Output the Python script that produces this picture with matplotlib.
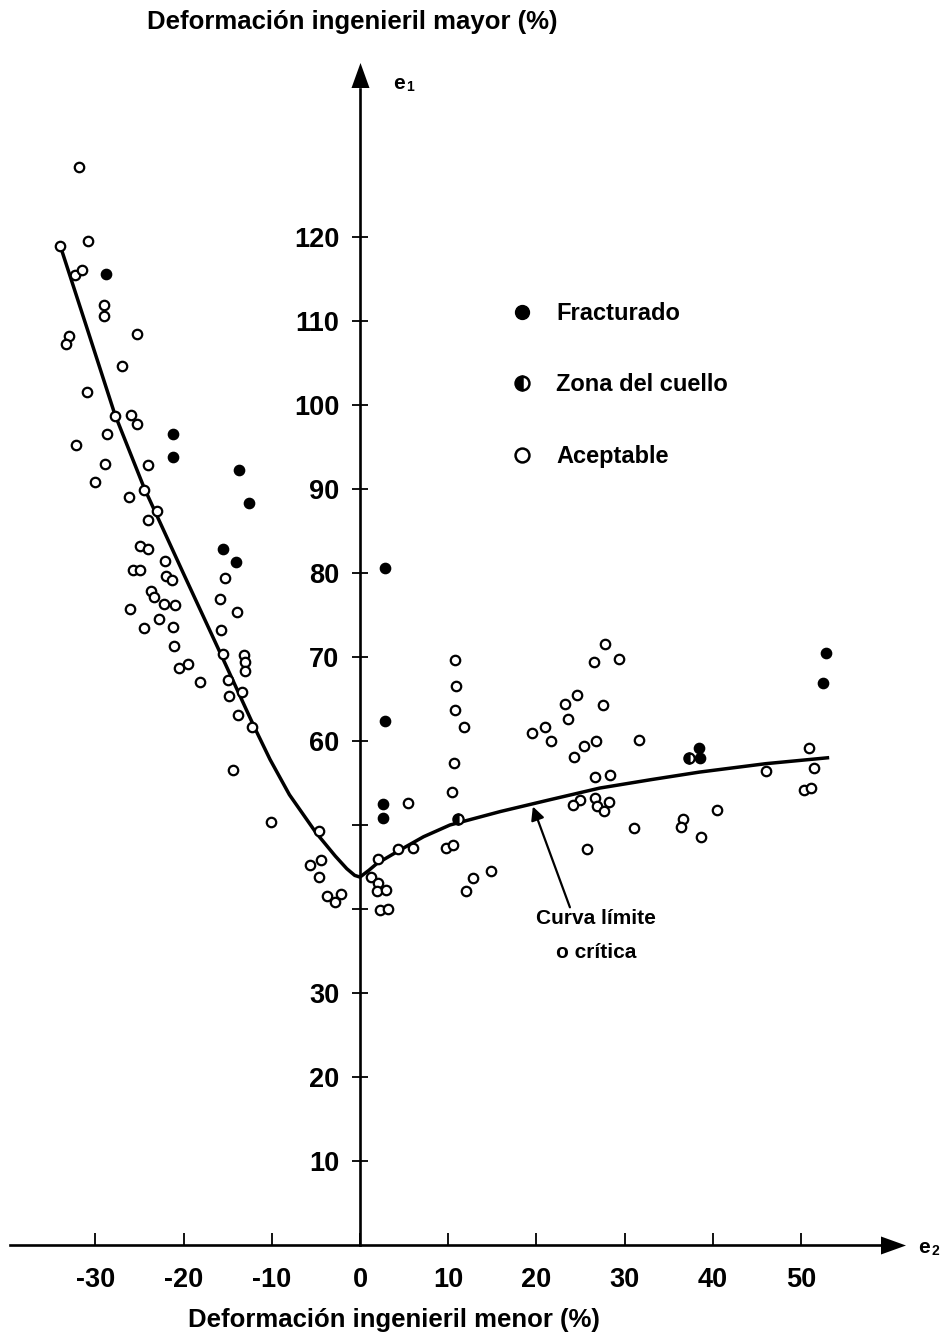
import matplotlib
matplotlib.use('Agg')
import matplotlib.pyplot as plt
from matplotlib.lines import Line2D

plt.rcParams['font.family'] = ['Liberation Sans', 'DejaVu Sans']
plt.rcParams['font.weight'] = 'bold'

# DATA
# fractured points
frac_x = [-28.8, -21.2, -21.2, -13.7, -12.6, -15.5, -14.1, 2.8, 2.8, 2.6, 2.6, 38.4, 38.5, 52.8, 52.5]
frac_y = [115.6, 96.5, 93.8, 92.3, 88.3, 82.9, 81.3, 80.6, 62.4, 52.5, 50.8, 59.2, 58.0, 70.5, 66.9]

# neck zone points
neck_x = [11.1, 37.3]
neck_y = [50.7, 58.0]

# acceptable points
ok_x = [-31.9, -34.0, -30.8, -32.3, -31.5, -29.0, -29.0, -33.0, -33.3, -25.3, -27.0, -31.0,
        -27.8, -26.0, -25.3, -28.7, -32.2, -28.9, -24.0, -30.0, -24.5, -26.2, -23.0, -24.0,
        -24.9, -24.0, -22.1, -25.7, -24.9, -22.0, -21.3, -15.3, -23.7, -23.4, -22.2, -21.0,
        -15.9, -26.1, -13.9, -22.8, -24.5, -21.2, -15.8, -21.1, -15.5, -13.2, -13.0, -13.0,
        -20.5, -19.5, -18.1, -15.0, -14.9, -13.4, -13.8, -12.2, -14.4, -10.1, -4.7, -4.4,
        -5.7, -4.7, -3.7, -2.8, -2.2,
        2.0, 1.3, 2.0, 1.9, 2.9, 2.3, 3.2, 5.4, 4.3, 6.0, 10.7, 10.4, 9.8, 10.5, 12.8, 14.9,
        12.0, 10.8, 10.9, 10.8, 11.8, 27.8, 26.5, 29.4, 24.6, 23.2, 27.5, 23.6, 21.0, 19.5,
        21.6, 26.8, 25.4, 31.6, 24.3, 26.6, 28.3, 24.9, 24.1, 26.6, 26.9, 27.7, 28.2, 31.1,
        25.7, 36.6, 36.4, 38.7, 40.5, 46.0, 50.9, 51.5, 50.3, 51.1]
ok_y = [128.3, 118.9, 119.5, 115.5, 116.1, 111.9, 110.6, 108.2, 107.3, 108.4, 104.7, 101.6,
        98.7, 98.8, 97.7, 96.5, 95.2, 93.0, 92.9, 90.8, 89.9, 89.1, 87.4, 86.3,
        83.2, 82.9, 81.4, 80.4, 80.4, 79.7, 79.2, 79.4, 77.8, 77.1, 76.3, 76.2,
        76.9, 75.7, 75.3, 74.5, 73.5, 73.6, 73.2, 71.3, 70.4, 70.2, 69.4, 68.3,
        68.7, 69.2, 67.0, 67.3, 65.4, 65.8, 63.1, 61.7, 56.5, 50.4, 49.3, 45.8,
        45.2, 43.8, 41.5, 40.8, 41.8,
        45.9, 43.8, 43.1, 42.1, 42.3, 39.9, 40.0, 52.6, 47.2, 47.3, 57.4, 53.9, 47.3, 47.6, 43.7, 44.5,
        42.1, 69.6, 66.5, 63.7, 61.7, 71.5, 69.4, 69.8, 65.5, 64.4, 64.3, 62.6, 61.7, 60.9,
        60.0, 60.0, 59.4, 60.1, 58.1, 55.7, 56.0, 53.0, 52.4, 53.2, 52.3, 51.7, 52.7, 49.6,
        47.2, 50.7, 49.8, 48.6, 51.8, 56.4, 59.2, 56.8, 54.2, 54.4]

# forming limit curve
curve_x = [-34.0, -31.0, -27.8, -24.5, -20.0, -15.5, -12.0, -10.2, -8.0, -5.0, -2.8, -1.5, -0.6,
           0.0, 1.0, 1.9, 4.5, 7.2, 10.2, 15.9, 21.5, 27.2, 33.0, 38.5, 46.0, 53.0]
curve_y = [119.0, 109.3, 98.9, 90.2, 79.9, 69.7, 61.7, 57.8, 53.6, 49.1, 46.3, 44.8, 44.0,
           43.8, 44.6, 45.4, 47.0, 48.6, 50.0, 51.6, 53.0, 54.4, 55.4, 56.3, 57.3, 58.0]

xticks = [-30, -20, -10, 0, 10, 20, 30, 40, 50]
yticks = [10, 20, 30, 40, 50, 60, 70, 80, 90, 100, 110, 120]
ylabels = ['10', '20', '30', '', '', '60', '70', '80', '90', '100', '110', '120']

# FIGURE
fig = plt.figure(figsize=(9.51, 13.37), dpi=100)
ax = fig.add_axes([0, 0, 1, 1])
ax.set_xlim(-360 / 8.82, 591 / 8.82)
ax.set_ylim(-92 / 8.4, 1245 / 8.4)

for s in ['top', 'right']:
    ax.spines[s].set_visible(False)
ax.spines['left'].set_position(('data', 0))
ax.spines['bottom'].set_position(('data', 0))
ax.spines['left'].set_linewidth(1.9)
ax.spines['bottom'].set_linewidth(1.9)
ax.spines['bottom'].set_bounds(-39.7, 59.3)
ax.spines['left'].set_bounds(0, 137.6)

ax.set_xticks(xticks)
ax.set_xticklabels([str(t) for t in xticks])
ax.set_yticks(yticks)
ax.set_yticklabels(ylabels)
ax.tick_params(axis='x', direction='in', length=9, width=1.3, pad=16, labelsize=19.5)
ax.tick_params(axis='y', direction='inout', length=12, width=1.3, pad=9, labelsize=19.5)

# arrow heads
arrow_r = [(-1, -0.72), (1, 0), (-1, 0.72), (-1, -0.72)]
arrow_u = [(-0.72, -1), (0, 1), (0.72, -1), (-0.72, -1)]
ax.plot([60.4], [0], marker=arrow_r, color='k', markersize=18, mew=0, clip_on=False)
ax.plot([0], [139.3], marker=arrow_u, color='k', markersize=18, mew=0, clip_on=False)

ax.text(3.7, 138.3, 'e', fontsize=15, ha='left', va='center')
ax.text(5.2, 137.9, '1', fontsize=10, ha='left', va='center')
ax.text(63.3, -0.3, 'e', fontsize=15, ha='left', va='center')
ax.text(64.8, -0.7, '2', fontsize=10, ha='left', va='center')

# curve
ax.plot(curve_x, curve_y, color='k', lw=2.5, solid_joinstyle='round', zorder=3)

# points
ms = 6.8
ax.plot(ok_x, ok_y, 'o', ms=ms, mfc='white', mec='k', mew=1.6, ls='none', zorder=4)
ax.plot(frac_x, frac_y, 'o', ms=ms + 0.6, mfc='k', mec='k', mew=1.0, ls='none', zorder=4)
ax.plot(neck_x, neck_y, 'o', ms=ms + 0.6, mfc='k', mfcalt='white', fillstyle='left',
        mec='k', mew=1.6, ls='none', zorder=4)

# callout
ax.annotate('', xy=(19.6, 52.2), xytext=(23.8, 40.2),
            arrowprops=dict(arrowstyle='-|>', lw=1.6, color='k', mutation_scale=20,
                            shrinkA=0, shrinkB=0))
ax.text(26.8, 38.9, 'Curva límite', fontsize=15, ha='center', va='center')
ax.text(26.8, 34.8, 'o crítica', fontsize=15, ha='center', va='center')

# legend
handles = [
    Line2D([], [], marker='o', ls='none', ms=10, mfc='k', mec='k'),
    Line2D([], [], marker='o', ls='none', ms=10, mfc='k', mfcalt='white', fillstyle='left',
           mec='k', mew=1.8),
    Line2D([], [], marker='o', ls='none', ms=10, mfc='white', mec='k', mew=1.8),
]
ax.legend(handles, ['Fracturado', 'Zona del cuello', 'Aceptable'], loc='upper left',
          bbox_to_anchor=(510 / 951, 1 - 302 / 1337), frameon=False, fontsize=17,
          handlelength=1.0, handletextpad=0.95, labelspacing=2.05, borderpad=0,
          borderaxespad=0)

fig.text(352 / 951, 1 - 22 / 1337, 'Deformación ingenieril mayor (%)', fontsize=18.5,
         ha='center', va='center')
fig.text(394 / 951, 1 - 1320 / 1337, 'Deformación ingenieril menor (%)', fontsize=18.5,
         ha='center', va='center')

fig.savefig('out.png', dpi=100)
